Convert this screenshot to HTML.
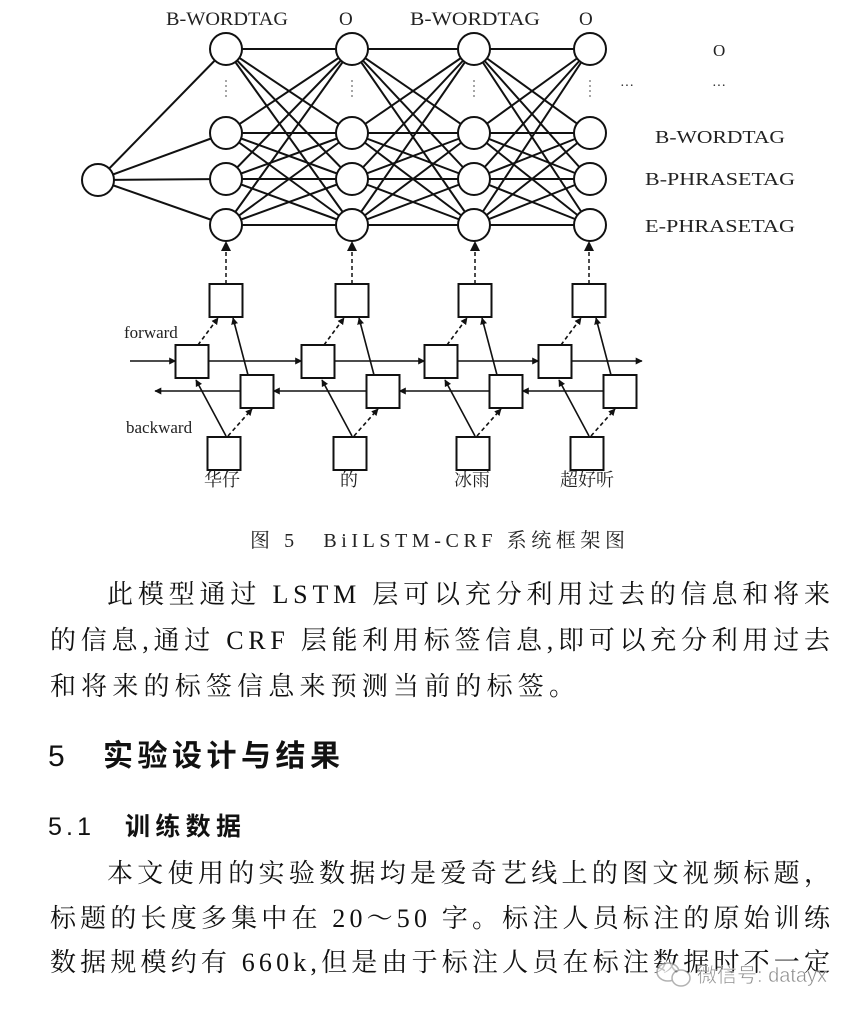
<!DOCTYPE html>
<html><head><meta charset="utf-8"><style>
html,body{margin:0;padding:0;background:#fff;}
svg{display:block;}
.lb{font-family:"Liberation Serif","Noto Serif CJK SC",serif;fill:#222;}
.bd{font-family:"Liberation Serif","Noto Serif CJK SC",serif;fill:#111;font-size:26px;}
.hd{font-family:"Liberation Sans","Noto Sans CJK SC",sans-serif;fill:#111;}
</style></head><body>
<svg width="862" height="1012" viewBox="0 0 862 1012" xmlns="http://www.w3.org/2000/svg">
<defs>
<marker id="ah" viewBox="0 0 10 10" refX="9" refY="5" markerWidth="7" markerHeight="7" orient="auto-start-reverse" markerUnits="userSpaceOnUse"><path d="M0,0 L10,5 L0,10 z" fill="#111"/></marker>
</defs>
<g stroke="#111" stroke-width="2" fill="none" id="net"></g>
<script>
(function(){
var ns="http://www.w3.org/2000/svg",g=document.getElementById('net');
function el(t,a,p){var e=document.createElementNS(ns,t);for(var k in a)e.setAttribute(k,a[k]);(p||g).appendChild(e);return e;}
var X=[226,352,474,590],Y=[49,133,179,225];
for(var r=0;r<4;r++)el('line',{x1:98,y1:180,x2:X[0],y2:Y[r]});
for(var c=0;c<3;c++)for(var a=0;a<4;a++)for(var b=0;b<4;b++)el('line',{x1:X[c],y1:Y[a],x2:X[c+1],y2:Y[b]});
el('circle',{cx:98,cy:180,r:16,fill:'#fff'});
for(var c=0;c<4;c++){for(var r=0;r<4;r++)el('circle',{cx:X[c],cy:Y[r],r:16,fill:'#fff'});
 el('line',{x1:X[c],y1:80,x2:X[c],y2:98,'stroke-dasharray':'2,3','stroke-width':1.5,stroke:'#888'});}
var B=[226,352,475,589],s=33;
for(var i=0;i<4;i++){var x=B[i];
 el('line',{x1:x,y1:284,x2:x,y2:250,'stroke-dasharray':'4,3','stroke-width':1.5});
 el('path',{d:'M'+(x-5)+',251 L'+(x+5)+',251 L'+x+',241 z',fill:'#111',stroke:'none'});
 el('line',{x1:x,y1:436,x2:x-30,y2:380,'marker-end':'url(#ah)','stroke-width':1.6});
 el('line',{x1:x+2,y1:436,x2:x+26,y2:409,'marker-end':'url(#ah)','stroke-dasharray':'4,3','stroke-width':1.6});
 el('line',{x1:x-28,y1:345,x2:x-8,y2:318,'marker-end':'url(#ah)','stroke-dasharray':'4,3','stroke-width':1.6});
 el('line',{x1:x+22,y1:375,x2:x+7,y2:318,'marker-end':'url(#ah)','stroke-width':1.6});
}
// forward line
var fx=[130];for(var i=0;i<4;i++)fx.push(B[i]-34);
for(var i=0;i<4;i++){el('line',{x1:(i==0?130:B[i-1]-34+16.5),y1:361,x2:B[i]-34-16.5,y2:361,'marker-end':'url(#ah)','stroke-width':1.6});}
el('line',{x1:B[3]-34+16.5,y1:361,x2:642,y2:361,'marker-end':'url(#ah)','stroke-width':1.6});
// backward
for(var i=3;i>0;i--){el('line',{x1:B[i]+31-16.5,y1:391,x2:B[i-1]+31+16.5,y2:391,'marker-end':'url(#ah)','stroke-width':1.6});}
el('line',{x1:B[0]+31-16.5,y1:391,x2:155,y2:391,'marker-end':'url(#ah)','stroke-width':1.6});
for(var i=0;i<4;i++){var x=B[i];
 el('rect',{x:x-16.5,y:284,width:s,height:s,fill:'#fff'});
 el('rect',{x:x-34-16.5,y:345,width:s,height:s,fill:'#fff'});
 el('rect',{x:x+31-16.5,y:375,width:s,height:s,fill:'#fff'});
 el('rect',{x:x-2-16.5,y:437,width:s,height:s,fill:'#fff'});
}
})();
</script>
<g class="lb" font-size="19">
<text x="166" y="25" textLength="122" lengthAdjust="spacingAndGlyphs">B-WORDTAG</text>
<text x="339" y="25">O</text>
<text x="410" y="25" textLength="130" lengthAdjust="spacingAndGlyphs">B-WORDTAG</text>
<text x="579" y="25">O</text>
<text x="713" y="56" font-size="17">O</text>
<text x="620" y="90" font-size="14">···</text>
<text x="712" y="90" font-size="14">···</text>
<text x="655" y="143" font-size="18" textLength="130" lengthAdjust="spacingAndGlyphs">B-WORDTAG</text>
<text x="645" y="185" font-size="18" textLength="150" lengthAdjust="spacingAndGlyphs">B-PHRASETAG</text>
<text x="645" y="232" font-size="18" textLength="150" lengthAdjust="spacingAndGlyphs">E-PHRASETAG</text>
<text x="124" y="338" font-size="17">forward</text>
<text x="126" y="433" font-size="17">backward</text>
<text x="204" y="486" font-size="18">华仔</text>
<text x="340" y="486" font-size="18">的</text>
<text x="454" y="486" font-size="18">冰雨</text>
<text x="560" y="486" font-size="18">超好听</text>
</g>
<text class="lb" x="250" y="547" font-size="20" textLength="375" lengthAdjust="spacing">图 5　BiILSTM-CRF 系统框架图</text>
<g class="bd">
<text x="107" y="603" textLength="723" lengthAdjust="spacing">此模型通过 LSTM 层可以充分利用过去的信息和将来</text>
<text x="50" y="649" textLength="780" lengthAdjust="spacing">的信息,通过 CRF 层能利用标签信息,即可以充分利用过去</text>
<text x="50" y="695" textLength="525" lengthAdjust="spacing">和将来的标签信息来预测当前的标签。</text>
<text x="107" y="882" textLength="723" lengthAdjust="spacing">本文使用的实验数据均是爱奇艺线上的图文视频标题，</text>
<text x="50" y="927" textLength="780" lengthAdjust="spacing">标题的长度多集中在 20～50 字。标注人员标注的原始训练</text>
<text x="50" y="971" textLength="780" lengthAdjust="spacing">数据规模约有 660k,但是由于标注人员在标注数据时不一定</text>
</g>
<text class="hd" x="48" y="766" font-size="30">5</text>
<text class="hd" x="103" y="766" font-size="30" font-weight="bold" textLength="237" lengthAdjust="spacing">实验设计与结果</text>
<text class="hd" x="48" y="835" font-size="25" textLength="43" lengthAdjust="spacing">5.1</text>
<text class="hd" x="125" y="835" font-size="25" font-weight="bold" textLength="116" lengthAdjust="spacing">训练数据</text>
<g opacity="0.75">
<ellipse cx="668" cy="972" rx="11" ry="9" fill="#fff" stroke="#999" stroke-width="1.5"/>
<ellipse cx="681" cy="978" rx="9" ry="8" fill="#fff" stroke="#999" stroke-width="1.5"/>
<text class="hd" x="697" y="982" font-size="20" fill="#777" style="fill:#666" stroke="#fff" stroke-width="0.5">微信号: datayx</text>
</g>
</svg>
</body></html>
